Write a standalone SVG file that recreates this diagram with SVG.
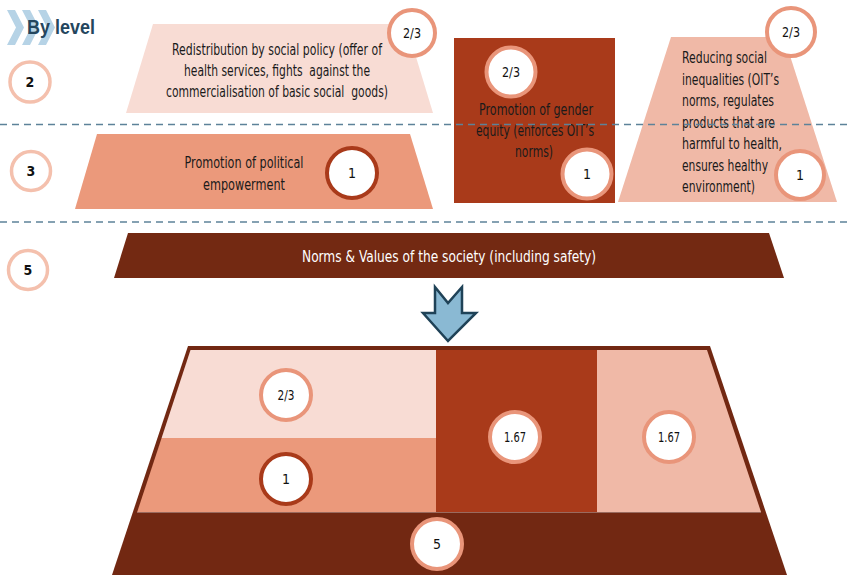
<svg xmlns="http://www.w3.org/2000/svg" width="849" height="575" viewBox="0 0 849 575">
<style>
.t{font-family:"Liberation Sans Narrow","DejaVu Sans Condensed","Liberation Sans",sans-serif;font-size:15px;fill:#1a1a1a}
.n{font-family:"Liberation Sans Narrow","DejaVu Sans Condensed","Liberation Sans",sans-serif;font-size:14px;fill:#111;text-anchor:middle}
.lv{font-family:"Liberation Sans Narrow","DejaVu Sans Condensed","Liberation Sans",sans-serif;font-size:14px;font-weight:bold;fill:#111;text-anchor:middle}
.c{text-anchor:middle}
.pre{white-space:pre}
.cl{fill:#fff;stroke:#e9957a;stroke-width:4}
.cd{fill:#fff;stroke:#a93a1a;stroke-width:4}
.lc{fill:#fff;stroke:#f4c0ad;stroke-width:3.5}
.dash{stroke:#5d8299;stroke-width:1.6;stroke-dasharray:7 5;fill:none}
.chev{fill:#b6d3e6}
</style>
<g id="header">
<polygon class="chev" points="7,10 15,10 24,27.5 15,45 7,45 16,27.5"/>
<polygon class="chev" points="22,10 30,10 39,27.5 30,45 22,45 31,27.5"/>
<polygon class="chev" points="38,10 46,10 55,27.5 46,45 38,45 47,27.5"/>
<text x="27" y="34" font-family="'Liberation Sans','DejaVu Sans',sans-serif" font-size="20" font-weight="bold" fill="#24465e" textLength="68" lengthAdjust="spacingAndGlyphs">By level</text>
</g>
<g id="level-2"><circle class="lc" cx="30" cy="82" r="20"/><text class="lv" x="30" y="87">2</text></g>
<g id="level-3"><circle class="lc" cx="31" cy="171" r="19.5"/><text class="lv" x="31" y="176">3</text></g>
<g id="level-5"><circle class="lc" cx="28" cy="270" r="19.5"/><text class="lv" x="28" y="275">5</text></g>

<g id="redistribution">
<polygon points="153,24 406,24 433,113 126,113" fill="#f8dcd4"/>
<text class="t c" x="277" y="55" textLength="210" lengthAdjust="spacingAndGlyphs">Redistribution by social policy (offer of</text>
<text class="t c pre" x="277" y="76" textLength="186" lengthAdjust="spacingAndGlyphs">health services, fights  against the</text>
<text class="t c pre" x="277" y="97" textLength="222" lengthAdjust="spacingAndGlyphs">commercialisation of basic social  goods)</text>
<circle class="cl" cx="412" cy="33" r="23"/><text class="n" x="412" y="38" textLength="18" lengthAdjust="spacingAndGlyphs">2/3</text>
</g>

<g id="reducing">
<polygon points="671,37 784,37 837,202 618,202" fill="#f0b9a7"/>
<text class="t" x="682" y="63" textLength="85" lengthAdjust="spacingAndGlyphs">Reducing social</text>
<text class="t" x="682" y="84.5" textLength="97" lengthAdjust="spacingAndGlyphs">inequalities (OIT’s</text>
<text class="t" x="682" y="106" textLength="92" lengthAdjust="spacingAndGlyphs">norms, regulates</text>
<text class="t" x="682" y="127.5" textLength="93" lengthAdjust="spacingAndGlyphs">products that are</text>
<text class="t" x="682" y="149" textLength="100" lengthAdjust="spacingAndGlyphs">harmful to health,</text>
<text class="t" x="682" y="170.5" textLength="86" lengthAdjust="spacingAndGlyphs">ensures healthy</text>
<text class="t" x="682" y="192" textLength="73" lengthAdjust="spacingAndGlyphs">environment)</text>
</g>

<g id="gender">
<rect x="454" y="38" width="161" height="165" fill="#a93a1a"/>
<text class="t c" x="536" y="115" textLength="114" lengthAdjust="spacingAndGlyphs">Promotion of gender</text>
<text class="t c" x="535" y="136" textLength="118" lengthAdjust="spacingAndGlyphs">equity (enforces OIT’s</text>
<text class="t c" x="534" y="157" textLength="38" lengthAdjust="spacingAndGlyphs">norms)</text>
</g>

<g id="connectors">
<line class="dash" x1="0" y1="124.5" x2="849" y2="124.5"/>
<line class="dash" x1="0" y1="222" x2="849" y2="222"/>
<polygon points="435,287 448,303 462,287 462,313 476,313 448,341 423,313 435,313" fill="#8ab9d3" stroke="#1f4257" stroke-width="2.5" stroke-linejoin="miter"/>
</g>

<g id="badges-top">
<circle class="cl" cx="511" cy="72" r="24.5"/><text class="n" x="511" y="77" textLength="18" lengthAdjust="spacingAndGlyphs">2/3</text>
<circle class="cl" cx="587" cy="174" r="24.5"/><text class="n" x="587" y="179">1</text>
<circle class="cl" cx="791" cy="32" r="24"/><text class="n" x="791" y="37" textLength="18" lengthAdjust="spacingAndGlyphs">2/3</text>
<circle class="cl" cx="800" cy="175" r="24"/><text class="n" x="800" y="180">1</text>
</g>

<g id="political">
<polygon points="97,134 410,134 433,209 75,209" fill="#eb997b"/>
<text class="t c" x="244" y="168" textLength="119" lengthAdjust="spacingAndGlyphs">Promotion of political</text>
<text class="t c" x="244" y="190" textLength="82" lengthAdjust="spacingAndGlyphs">empowerment</text>
<circle class="cd" cx="352" cy="173" r="25"/><text class="n" x="352" y="178">1</text>
</g>

<g id="norms">
<polygon points="128,233 769,233 784,278 114,278" fill="#732912"/>
<text x="449" y="262" font-family="'Liberation Sans Narrow','DejaVu Sans Condensed','Liberation Sans',sans-serif" font-size="16" fill="#fff" text-anchor="middle" textLength="294" lengthAdjust="spacingAndGlyphs">Norms &amp; Values of the society (including safety)</text>
</g>

<g id="pyramid">
<polygon points="188,346 710,346 787,575 112,575" fill="#722812"/>
<polygon points="190.5,350 436,350 436,438 161.6,438" fill="#f8dcd4"/>
<polygon points="161.6,438 436,438 436,512 137.2,512" fill="#eb997b"/>
<rect x="436" y="350" width="161" height="162" fill="#a93a1a"/>
<polygon points="597,350 707,350 761,512 597,512" fill="#f0b9a7"/>
<line x1="137" y1="512.5" x2="761" y2="512.5" stroke="#9a6a5e" stroke-width="1"/>
<circle class="cl" cx="286" cy="395" r="25"/><text class="n" x="286" y="400" textLength="17" lengthAdjust="spacingAndGlyphs">2/3</text>
<circle class="cd" cx="286" cy="479" r="25"/><text class="n" x="286" y="484">1</text>
<circle class="cl" cx="515" cy="437" r="25"/><text class="n" x="515" y="442" textLength="22" lengthAdjust="spacingAndGlyphs">1.67</text>
<circle class="cl" cx="669" cy="437" r="25"/><text class="n" x="669" y="442" textLength="22" lengthAdjust="spacingAndGlyphs">1.67</text>
<circle class="cl" cx="437" cy="544" r="25"/><text class="n" x="437" y="549">5</text>
</g>
</svg>
